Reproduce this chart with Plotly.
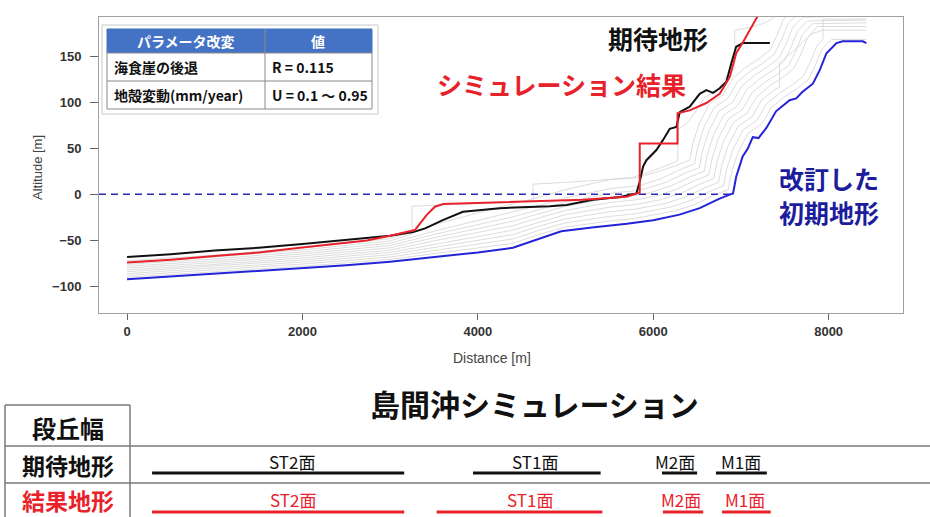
import plotly.graph_objects as go

W, H = 930, 517

# ---- profile data: distance along line [m], altitude [m] ----
initial_dist = [0, 500, 1000, 1500, 2000, 2500, 3000, 3500, 4000, 4400, 4700, 4950, 5300,
                5700, 6000, 6300, 6530, 6750, 6880, 6910, 6946, 7020, 7080, 7135, 7200, 7290,
                7400, 7470, 7555, 7630, 7700, 7820, 7900, 7975, 8090, 8160, 8390, 8430]
initial_alt = [-92, -89, -86, -83, -80, -77, -73, -68, -63, -58, -48, -40, -36,
               -32, -28, -22, -15, -5, 0, 1, 19, 41, 50, 62, 61, 72,
               90, 95, 102, 104, 111, 120, 135, 153, 164, 166, 166, 164]

expected_dist = [0, 500, 1000, 1500, 2000, 2540, 3000, 3263, 3400, 3600, 3830, 4250, 4820,
                 5010, 5313, 5620, 5808, 5846, 5884, 5922, 6036, 6112, 6188, 6264, 6302,
                 6416, 6530, 6606, 6682, 6758, 6834, 6890, 6946, 7023, 7330]
expected_alt = [-68, -65, -61, -58, -54, -49, -45, -41, -37, -28, -19, -15, -13,
                -11.5, -6, -3, 1, 14, 30, 37, 48, 59, 71, 73, 89,
                95, 109, 113, 110, 115, 122, 142, 160, 164, 164]

result_dist = [0, 500, 1000, 1500, 1971, 2500, 2732, 3000, 3225, 3282, 3415, 3510, 3605,
               4000, 4630, 5200, 5695, 5825, 5846, 5846, 6277, 6277, 6416, 6606, 6758,
               6872, 6946, 7023, 7100, 7175, 7230]
result_alt = [-74, -71, -67, -63, -58, -53, -50, -45, -40.5, -38.7, -22.5, -13.4, -10.5,
              -9.5, -8, -6, -2.6, 1, 2, 55, 55, 88, 91, 99, 109,
              127, 153, 165, 178, 191, 200]

# intermediate stages of the terrain evolution
stage1_dist = [0, 1000, 2000, 3000, 3500, 4000, 4400, 4700, 5000, 5500, 5800, 6245, 6475, 6695, 6825, 6855, 6891, 6965, 7080, 7235, 7345, 7500, 7645, 7765, 7845, 7920, 8035, 8430]
stage1_alt = [-90, -84, -78, -70.5, -64.5, -58.7, -53.2, -43.5, -35.5, -29, -26, -18, -11, -1, 4, 5, 23, 45, 66, 76, 94, 106, 115, 124, 139, 157, 168, 168]
stage2_dist = [0, 1000, 2000, 3000, 3500, 4000, 4400, 4700, 5000, 5500, 5800, 6190, 6420, 6640, 6770, 6800, 6836, 6910, 7025, 7180, 7290, 7445, 7590, 7710, 7790, 7865, 7935, 7935, 8430]
stage2_alt = [-88, -82, -75.6, -68, -61, -54.4, -48.4, -39, -31, -24, -21, -14, -7, 3, 8, 9, 27, 49, 70, 80, 98, 110, 119, 128, 143, 161, 168, 190, 190]
stage3_dist = [0, 1000, 2000, 3000, 3500, 4000, 4400, 4700, 5000, 5500, 5800, 6135, 6365, 6585, 6715, 6745, 6781, 6855, 6970, 7125, 7235, 7390, 7440, 7440, 7535, 7655, 7735, 7810, 7925, 8430]
stage3_alt = [-86, -80, -73.4, -65.5, -57.5, -50, -43.6, -34.5, -26.5, -19, -16, -10, -3, 7, 12, 13, 31, 53, 74, 84, 102, 114, 116, 143, 150, 160, 168, 174, 178, 178]
stage4_dist = [0, 1000, 2000, 3000, 3500, 4000, 4400, 4700, 5000, 5500, 5800, 6080, 6310, 6530, 6660, 6690, 6726, 6800, 6915, 7070, 7180, 7335, 7480, 7600, 7680, 7755, 7870, 8430]
stage4_alt = [-84, -78, -71.2, -63, -54, -45.8, -38.8, -30, -22, -14, -11, -6, 1, 11, 16, 17, 35, 57, 78, 88, 106, 118, 127, 136, 151, 169, 182, 182]
stage5_dist = [0, 1000, 2000, 3000, 3500, 4000, 4400, 4700, 5000, 5500, 5800, 6025, 6255, 6475, 6605, 6635, 6671, 6745, 6860, 7015, 7125, 7280, 7425, 7545, 7625, 7700, 7815, 8430]
stage5_alt = [-82, -76, -69, -60.5, -50.5, -41.5, -34, -25.5, -17.5, -9, -6, -2, 5, 15, 20, 21, 39, 61, 82, 92, 110, 122, 131, 140, 155, 173, 185, 186]
stage6_dist = [0, 1000, 2000, 3000, 3500, 4000, 4400, 4700, 5000, 5500, 5800, 5970, 6200, 6420, 6550, 6580, 6616, 6690, 6805, 6960, 7070, 7225, 7370, 7490, 7570, 7645, 7760, 8430]
stage6_alt = [-80, -74, -66.8, -58, -47, -37.2, -29.2, -21, -13, -4, -1, 2, 9, 19, 24, 25, 43, 65, 86, 96, 114, 126, 135, 144, 159, 177, 188, 189]
stage7_dist = [0, 1000, 2000, 3000, 3500, 4000, 4400, 4700, 5000, 5500, 5800, 5915, 6145, 6365, 6495, 6525, 6561, 6635, 6750, 6905, 7015, 7170, 7315, 7435, 7515, 7590, 7705, 8430]
stage7_alt = [-78, -72, -64.6, -55.5, -43.5, -32.9, -24.4, -16.5, -8.5, 1, 4, 6, 13, 23, 28, 29, 47, 69, 90, 100, 118, 130, 139, 148, 163, 181, 192, 194]
stage8_dist = [0, 1000, 2000, 3000, 3500, 4000, 4400, 4700, 5000, 5500, 5800, 5860, 6090, 6310, 6440, 6470, 6506, 6580, 6695, 6850, 6960, 7115, 7260, 7380, 7460, 7535, 7650]
stage8_alt = [-76, -70, -62.4, -53, -40, -28.6, -19.6, -12, -4, 6, 9, 10, 17, 27, 32, 33, 51, 73, 94, 104, 122, 134, 143, 152, 167, 185, 196]
stage9_dist = [0, 1000, 2000, 3000, 3250, 3250, 3700, 4300, 4630, 4630, 5000, 5500, 5805, 6035, 6255, 6385, 6415, 6451, 6525, 6640, 6795, 6905, 7060, 7205, 7325, 7405, 7480, 7595]
stage9_alt = [-74, -68, -60.2, -50.5, -43, -13, -11, -9, -7, 11, 13, 16, 18, 24, 31, 36, 37, 55, 77, 98, 108, 126, 138, 147, 156, 171, 189, 200]
stage10_dist = [0, 1000, 2000, 3000, 3500, 4000, 4400, 4700, 5000, 5500, 5750, 5980, 6200, 6280, 6280, 6396, 6470, 6585, 6740, 6850, 6930, 6930, 7150, 7270, 7350, 7425]
stage10_alt = [-72, -66, -58, -48, -33, -20, -10, -3, 5, 16, 18, 25, 33, 36, 70, 78, 88, 105, 114, 130, 136, 178, 182, 186, 190, 195]

stages = [(stage1_dist, stage1_alt), (stage2_dist, stage2_alt), (stage3_dist, stage3_alt),
          (stage4_dist, stage4_alt), (stage5_dist, stage5_alt), (stage6_dist, stage6_alt),
          (stage7_dist, stage7_alt), (stage8_dist, stage8_alt), (stage9_dist, stage9_alt),
          (stage10_dist, stage10_alt)]

sea_level = 0
sea_level_end = 6880

x_ticks = [0, 2000, 4000, 6000, 8000]
y_ticks = [-100, -50, 0, 50, 100, 150]
x_range = [-320, 8848]
y_range = [-128.7, 192.3]

# terrace widths (distance along line) for the summary table
terrace_names = ["ST2面", "ST1面", "M2面", "M1面"]
expected_start = [285, 3945, 6100, 6715]
expected_end = [3160, 5400, 6500, 7295]
result_start = [285, 3530, 6110, 6785]
result_end = [3160, 5420, 6570, 7340]
label_shift_expected = [14, -2, -5, 0]
label_shift_result = [15, 10, -2, -1]

param_rows = [("海食崖の後退", "R = 0.115"), ("地殻変動(mm/year)", "U = 0.1 ～ 0.95")]


def px(x):
    return x / W


def py(y):
    return 1 - y / H


BLUE = "#2323d8"
RED = "#e8222a"
BLACK = "#111111"
NAVY = "#1c1c9c"
JP = "Noto Sans CJK JP"
LAT = "Liberation Sans, Arial"

fig = go.Figure()

for d, a in stages:
    fig.add_trace(go.Scatter(x=d, y=a, mode="lines", line=dict(color="#cdcdcd", width=0.7),
                             hoverinfo="skip", showlegend=False))

fig.add_trace(go.Scatter(x=[x_range[0], sea_level_end], y=[sea_level, sea_level], mode="lines",
                         line=dict(color="#2a2ab0", width=1.6, dash="7px,5px"),
                         hoverinfo="skip", showlegend=False))
fig.add_trace(go.Scatter(x=initial_dist, y=initial_alt, mode="lines",
                         line=dict(color=BLUE, width=2), showlegend=False, name="初期地形"))
fig.add_trace(go.Scatter(x=expected_dist, y=expected_alt, mode="lines",
                         line=dict(color=BLACK, width=2), showlegend=False, name="期待地形"))
fig.add_trace(go.Scatter(x=result_dist, y=result_alt, mode="lines",
                         line=dict(color=RED, width=2), showlegend=False, name="シミュレーション結果"))

# terrace width bars, placed on a second x axis that shares the distance scale
for i, name in enumerate(terrace_names):
    fig.add_trace(go.Scatter(x=[expected_start[i], expected_end[i]], y=[473, 473], mode="lines",
                             line=dict(color=BLACK, width=3), xaxis="x2", yaxis="y2",
                             hoverinfo="skip", showlegend=False))
    fig.add_trace(go.Scatter(x=[result_start[i], result_end[i]], y=[512, 512], mode="lines",
                             line=dict(color=RED, width=3), xaxis="x2", yaxis="y2",
                             hoverinfo="skip", showlegend=False))

annotations = []
shapes = []


def note(text, x, y, size, color, family=JP, bold=True, xanchor="center", xref="paper", **kw):
    annotations.append(dict(x=px(x) if xref == "paper" else x, y=py(y), xref=xref, yref="paper",
                            text=text, showarrow=False, xanchor=xanchor, yanchor="middle",
                            font=dict(family=family, size=size, color=color,
                                      weight="bold" if bold else "normal"), **kw))


# axis titles
note("Altitude [m]", 38, 168, 13, "#444", family=LAT, bold=False, textangle=-90)
note("Distance [m]", 492, 358, 14, "#444", family=LAT, bold=False)

# labels of the profiles
note("期待地形", 658, 38, 25, BLACK)
note("シミュレーション結果", 561, 84, 25, RED)
note("改訂した", 829, 178, 25, NAVY)
note("初期地形", 829, 212, 25, NAVY)

# parameter table inside the plot
shapes.append(dict(type="rect", xref="paper", yref="paper", x0=px(102), x1=px(378), y0=py(25), y1=py(114),
                   line=dict(color="#c8c8c8", width=1), fillcolor="white", layer="above"))
shapes.append(dict(type="rect", xref="paper", yref="paper", x0=px(107), x1=px(372), y0=py(29), y1=py(53),
                   line=dict(color="#4472c4", width=1), fillcolor="#4472c4", layer="above"))
shapes.append(dict(type="rect", xref="paper", yref="paper", x0=px(107), x1=px(372), y0=py(53), y1=py(109),
                   line=dict(color="#8a8a8a", width=1), fillcolor="white", layer="above"))
shapes.append(dict(type="line", xref="paper", yref="paper", x0=px(107), x1=px(372), y0=py(81), y1=py(81),
                   line=dict(color="#8a8a8a", width=1), layer="above"))
shapes.append(dict(type="line", xref="paper", yref="paper", x0=px(265), x1=px(265), y0=py(29), y1=py(109),
                   line=dict(color="#8a8a8a", width=1), layer="above"))
note("パラメータ改変", 186, 41, 14, "white")
note("値", 318, 41, 14, "white")
for i, (k, v) in enumerate(param_rows):
    yy = 67 + 28 * i
    note(k, 112, yy, 14, "#111", xanchor="left")
    note(v, 270, yy, 14, "#111", xanchor="left")

# summary table below the plot
note("島間沖シミュレーション", 534, 403, 30, "#111")
grid = "#7a7a7a"
for x0, y0, x1, y1 in [(5, 405, 130, 405), (5, 405, 5, 517), (130, 405, 130, 517),
                       (5, 446, 930, 446), (5, 483, 930, 483)]:
    shapes.append(dict(type="line", xref="paper", yref="paper", x0=px(x0), x1=px(x1), y0=py(y0), y1=py(y1),
                       line=dict(color=grid, width=1.5)))
note("段丘幅", 68, 427, 24, "#111")
note("期待地形", 68, 465, 23, "#111")
note("結果地形", 68, 500, 23, RED)
for i, name in enumerate(terrace_names):
    note(name, (expected_start[i] + expected_end[i]) / 2, 461, 17, "#111", bold=False, xref="x2",
         xshift=label_shift_expected[i])
    note(name, (result_start[i] + result_end[i]) / 2, 499, 17, RED, bold=False, xref="x2",
         xshift=label_shift_result[i])

x_dom = [px(99), px(903)]
fig.update_layout(
    width=W, height=H, margin=dict(l=0, r=0, t=0, b=0),
    paper_bgcolor="white", plot_bgcolor="rgba(0,0,0,0)",
    xaxis=dict(domain=x_dom, range=x_range, tickvals=x_ticks, ticks="outside", ticklen=6,
               tickcolor="#666", showline=True, linecolor="#a0a0a0", linewidth=1, mirror=True,
               showgrid=False, zeroline=False, anchor="y",
               tickfont=dict(family=LAT, size=13, color="#333", weight="bold")),
    yaxis=dict(domain=[py(313), py(17)], range=y_range, tickvals=y_ticks, ticks="outside", ticklen=8,
               tickcolor="#666", showline=True, linecolor="#a0a0a0", linewidth=1, mirror=True,
               showgrid=False, zeroline=False, anchor="x", ticklabelstandoff=6,
               tickfont=dict(family=LAT, size=13, color="#333", weight="bold")),
    xaxis2=dict(domain=x_dom, range=x_range, anchor="y2", visible=False),
    yaxis2=dict(domain=[0, 1], range=[H, 0], anchor="x2", visible=False),
    annotations=annotations, shapes=shapes,
)

fig.write_html("out.html")
